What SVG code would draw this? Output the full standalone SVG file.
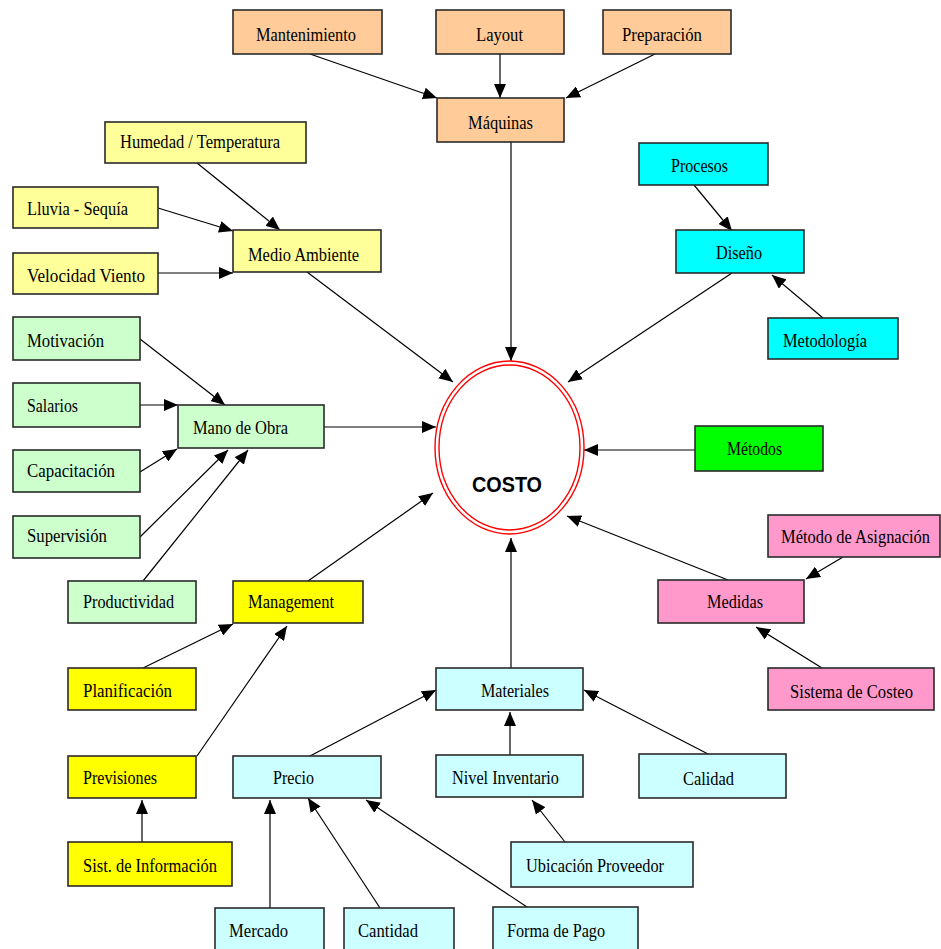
<svg xmlns="http://www.w3.org/2000/svg" width="941" height="949" viewBox="0 0 941 949">
<defs>
<marker id="ah" markerUnits="userSpaceOnUse" markerWidth="14" markerHeight="12" refX="14" refY="6" orient="auto">
<path d="M0,0 L14,6 L0,12 z" fill="#000"/>
</marker>
<style>
rect.n{stroke:#2a2a2a;stroke-width:1.6}
text.t{font-family:"Liberation Serif","Times New Roman",serif;font-size:18px;fill:#000}
.peach{fill:#FFCC99}.ly{fill:#FFFF99}.lg{fill:#CCFFCC}.yl{fill:#FFFF00}.lc{fill:#CCFFFF}.cy{fill:#00FFFF}.gr{fill:#00FF00}.pk{fill:#FF99CC}
#edges line{stroke:#000;stroke-width:1.2;marker-end:url(#ah)}
</style>
</defs>
<rect width="941" height="949" fill="#fff"/>
<g id="edges">
<line x1="310" y1="54" x2="437" y2="98"/>
<line x1="500" y1="54" x2="500" y2="98"/>
<line x1="655" y1="54" x2="566" y2="98"/>
<line x1="511" y1="142" x2="511" y2="361"/>
<line x1="197" y1="163" x2="280" y2="230"/>
<line x1="158" y1="208" x2="233" y2="231"/>
<line x1="158" y1="273" x2="233" y2="273"/>
<line x1="307" y1="272" x2="453" y2="382"/>
<line x1="140" y1="339" x2="225" y2="405"/>
<line x1="140" y1="405" x2="178" y2="405"/>
<line x1="140" y1="472" x2="177" y2="449"/>
<line x1="140" y1="537" x2="228" y2="450"/>
<line x1="143" y1="581" x2="248" y2="450"/>
<line x1="324" y1="427" x2="436" y2="427"/>
<line x1="308" y1="581" x2="433" y2="493"/>
<line x1="143" y1="668" x2="233" y2="624"/>
<line x1="197" y1="756" x2="287" y2="626"/>
<line x1="142" y1="842" x2="142" y2="800"/>
<line x1="310" y1="756" x2="436" y2="690"/>
<line x1="270" y1="908" x2="270" y2="800"/>
<line x1="380" y1="908" x2="308" y2="798"/>
<line x1="527" y1="907" x2="366" y2="800"/>
<line x1="510" y1="755" x2="510" y2="712"/>
<line x1="710" y1="755" x2="584" y2="690"/>
<line x1="565" y1="842" x2="532" y2="800"/>
<line x1="511" y1="668" x2="511" y2="538"/>
<line x1="694" y1="185" x2="732" y2="231"/>
<line x1="823" y1="318" x2="772" y2="275"/>
<line x1="732" y1="273" x2="568" y2="382"/>
<line x1="695" y1="450" x2="584" y2="450"/>
<line x1="843" y1="557" x2="806" y2="579"/>
<line x1="822" y1="668" x2="756" y2="627"/>
<line x1="728" y1="580" x2="567" y2="516"/>
</g>
<g id="costo">
<ellipse cx="509.5" cy="447.5" rx="74.5" ry="86.5" fill="#fff" stroke="#FF0000" stroke-width="1.4"/>
<ellipse cx="509.5" cy="447.5" rx="70.5" ry="82.5" fill="none" stroke="#FF0000" stroke-width="1.4"/>
<text x="472" y="492" font-family="'Liberation Sans',Arial,sans-serif" font-weight="bold" font-size="22" textLength="70" lengthAdjust="spacingAndGlyphs">COSTO</text>
</g>
<g id="mantenimiento"><rect class="n peach" x="233" y="10" width="149" height="44"/><text class="t" x="256" y="41" textLength="100" lengthAdjust="spacingAndGlyphs">Mantenimiento</text></g>
<g id="layout"><rect class="n peach" x="436" y="10" width="128" height="44"/><text class="t" x="476" y="41" textLength="47" lengthAdjust="spacingAndGlyphs">Layout</text></g>
<g id="preparacion"><rect class="n peach" x="603" y="10" width="128" height="44"/><text class="t" x="622" y="41" textLength="80" lengthAdjust="spacingAndGlyphs">Preparación</text></g>
<g id="maquinas"><rect class="n peach" x="437" y="98" width="127" height="44"/><text class="t" x="468" y="129" textLength="65" lengthAdjust="spacingAndGlyphs">Máquinas</text></g>
<g id="humedad"><rect class="n ly" x="105" y="122" width="201" height="41"/><text class="t" x="120" y="148" textLength="160" lengthAdjust="spacingAndGlyphs">Humedad / Temperatura</text></g>
<g id="lluvia"><rect class="n ly" x="13" y="187" width="145" height="41"/><text class="t" x="27" y="215" textLength="101" lengthAdjust="spacingAndGlyphs">Lluvia - Sequía</text></g>
<g id="velocidad"><rect class="n ly" x="13" y="253" width="145" height="41"/><text class="t" x="27" y="282" textLength="118" lengthAdjust="spacingAndGlyphs">Velocidad Viento</text></g>
<g id="medio"><rect class="n ly" x="233" y="230" width="148" height="42"/><text class="t" x="248" y="261" textLength="111" lengthAdjust="spacingAndGlyphs">Medio Ambiente</text></g>
<g id="motivacion"><rect class="n lg" x="13" y="317" width="127" height="43"/><text class="t" x="27" y="347" textLength="77" lengthAdjust="spacingAndGlyphs">Motivación</text></g>
<g id="salarios"><rect class="n lg" x="13" y="383" width="127" height="44"/><text class="t" x="27" y="412" textLength="51" lengthAdjust="spacingAndGlyphs">Salarios</text></g>
<g id="capacitacion"><rect class="n lg" x="13" y="450" width="127" height="42"/><text class="t" x="27" y="477" textLength="88" lengthAdjust="spacingAndGlyphs">Capacitación</text></g>
<g id="supervision"><rect class="n lg" x="13" y="516" width="127" height="42"/><text class="t" x="27" y="542" textLength="80" lengthAdjust="spacingAndGlyphs">Supervisión</text></g>
<g id="manoobra"><rect class="n lg" x="178" y="405" width="146" height="43"/><text class="t" x="193" y="434" textLength="95" lengthAdjust="spacingAndGlyphs">Mano de Obra</text></g>
<g id="productividad"><rect class="n lg" x="68" y="581" width="128" height="42"/><text class="t" x="83" y="608" textLength="91" lengthAdjust="spacingAndGlyphs">Productividad</text></g>
<g id="management"><rect class="n yl" x="233" y="581" width="130" height="42"/><text class="t" x="248" y="608" textLength="86" lengthAdjust="spacingAndGlyphs">Management</text></g>
<g id="planificacion"><rect class="n yl" x="68" y="668" width="128" height="42"/><text class="t" x="83" y="697" textLength="89" lengthAdjust="spacingAndGlyphs">Planificación</text></g>
<g id="previsiones"><rect class="n yl" x="68" y="756" width="128" height="42"/><text class="t" x="83" y="784" textLength="74" lengthAdjust="spacingAndGlyphs">Previsiones</text></g>
<g id="sistinfo"><rect class="n yl" x="68" y="842" width="164" height="44"/><text class="t" x="83" y="872" textLength="134" lengthAdjust="spacingAndGlyphs">Sist. de Información</text></g>
<g id="precio"><rect class="n lc" x="233" y="756" width="148" height="42"/><text class="t" x="273" y="784" textLength="41" lengthAdjust="spacingAndGlyphs">Precio</text></g>
<g id="mercado"><rect class="n lc" x="215" y="908" width="109" height="46"/><text class="t" x="229" y="937" textLength="59" lengthAdjust="spacingAndGlyphs">Mercado</text></g>
<g id="cantidad"><rect class="n lc" x="344" y="908" width="110" height="46"/><text class="t" x="358" y="937" textLength="60" lengthAdjust="spacingAndGlyphs">Cantidad</text></g>
<g id="formapago"><rect class="n lc" x="493" y="907" width="145" height="47"/><text class="t" x="507" y="937" textLength="98" lengthAdjust="spacingAndGlyphs">Forma de Pago</text></g>
<g id="materiales"><rect class="n lc" x="436" y="668" width="147" height="42"/><text class="t" x="481" y="697" textLength="68" lengthAdjust="spacingAndGlyphs">Materiales</text></g>
<g id="nivel"><rect class="n lc" x="436" y="755" width="147" height="42"/><text class="t" x="452" y="784" textLength="107" lengthAdjust="spacingAndGlyphs">Nivel Inventario</text></g>
<g id="calidad"><rect class="n lc" x="639" y="754" width="147" height="44"/><text class="t" x="683" y="785" textLength="51" lengthAdjust="spacingAndGlyphs">Calidad</text></g>
<g id="ubicacion"><rect class="n lc" x="511" y="842" width="182" height="45"/><text class="t" x="526" y="872" textLength="138" lengthAdjust="spacingAndGlyphs">Ubicación Proveedor</text></g>
<g id="procesos"><rect class="n cy" x="639" y="143" width="129" height="42"/><text class="t" x="671" y="172" textLength="57" lengthAdjust="spacingAndGlyphs">Procesos</text></g>
<g id="diseno"><rect class="n cy" x="676" y="230" width="128" height="43"/><text class="t" x="716" y="259" textLength="46" lengthAdjust="spacingAndGlyphs">Diseño</text></g>
<g id="metodologia"><rect class="n cy" x="768" y="318" width="130" height="41"/><text class="t" x="783" y="347" textLength="84" lengthAdjust="spacingAndGlyphs">Metodología</text></g>
<g id="metodos"><rect class="n gr" x="695" y="426" width="128" height="45"/><text class="t" x="727" y="455" textLength="55" lengthAdjust="spacingAndGlyphs">Métodos</text></g>
<g id="asignacion"><rect class="n pk" x="768" y="515" width="172" height="42"/><text class="t" x="781" y="543" textLength="149" lengthAdjust="spacingAndGlyphs">Método de Asignación</text></g>
<g id="medidas"><rect class="n pk" x="658" y="580" width="146" height="43"/><text class="t" x="707" y="608" textLength="56" lengthAdjust="spacingAndGlyphs">Medidas</text></g>
<g id="sistcosteo"><rect class="n pk" x="768" y="668" width="166" height="42"/><text class="t" x="790" y="698" textLength="123" lengthAdjust="spacingAndGlyphs">Sistema de Costeo</text></g>
</svg>
